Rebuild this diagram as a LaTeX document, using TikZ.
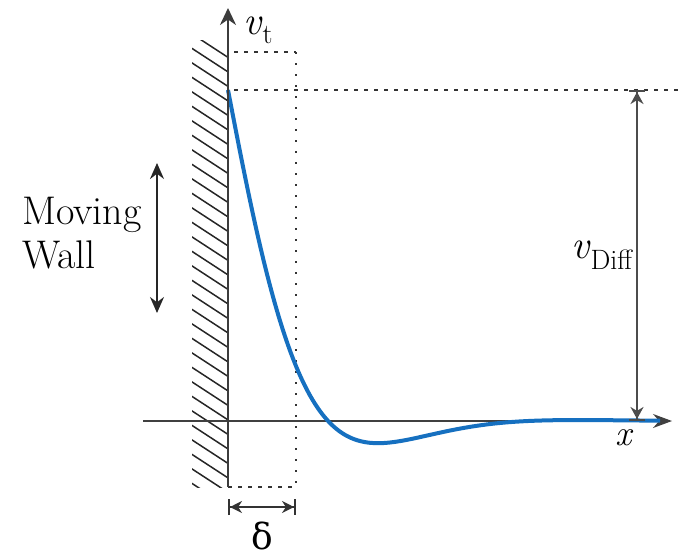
\documentclass[tikz,border=0pt]{standalone}
\usepackage{fontspec}
\newfontfamily\deltafont{DejaVu Serif}
\usetikzlibrary{arrows.meta,calc,positioning}
\definecolor{profile}{RGB}{22,112,192}
\definecolor{walldark}{RGB}{60,60,60}

\begin{document}
\begin{tikzpicture}[x=1pt,y=-1pt,>=Stealth,
    axisline/.style={line width=1.6pt,black!75},
    guide/.style={line width=1.8pt,black!80,dash pattern=on 4pt off 6pt},
    guidedot/.style={line width=2pt,black!80,dash pattern=on 2pt off 9pt},
    lbl/.style={inner sep=0pt,font=\fontsize{40}{44}\selectfont}]
  \useasboundingbox (0,0) rectangle (684,557);
  % origin, axes ends and the box of width delta
  \coordinate (O) at (228,421);
  \coordinate (vtop) at (228,8);
  \coordinate (wallbot) at (228,487);
  \coordinate (xstart) at (143,421);
  \coordinate (xend) at (672,421);
  \coordinate (boxtl) at (228,52);
  \coordinate (boxbr) at (296,487);
  \coordinate (vmax) at (228,90);
  % hatching of the wall
  \begin{scope}
    \clip (192,40) rectangle (wallbot);
    \foreach \k in {0,...,34}{
      \draw[line width=1.5pt,black!85] (186,{30+14.5*\k}) -- (232,{30+14.5*\k+30});
    }
  \end{scope}
  % box of the boundary layer
  \draw[guide] (234,52) -- (boxbr |- boxtl);
  \draw[guidedot] (boxbr |- boxtl) -- (boxbr);
  \draw[guide] (wallbot) -- (boxbr);
  \draw[guide] (234,90) -- (684,90);
  % axes
  \draw[axisline,-{Stealth[length=19pt,width=14pt]}] (xstart) -- (xend);
  % velocity profile
  \draw[profile,line width=4pt] plot[domain=0:432,samples=160]
      ({228+\x},{421-331*exp(-\x/63.7)*cos(\x/63.7 r)});
  \draw[line width=2.5pt,walldark,-{Stealth[length=17pt,width=16pt]}] (wallbot) -- (vtop);
  % v_Diff
  \coordinate (dtop) at (637,90);
  \coordinate (dbot) at (637,421);
  \draw[line width=2.5pt,black!70,
    {Bar[width=16pt,line width=2pt]Stealth[length=12pt,width=13pt]}-{Stealth[length=12pt,width=13pt]Bar[width=16pt,line width=2pt]}]
    (dtop) -- (dbot);
  % moving wall
  \coordinate (mwtop) at (157,163);
  \coordinate (mwbot) at (157,313);
  \draw[line width=1.8pt,black!85,{Stealth[length=16pt,width=14pt]}-{Stealth[length=16pt,width=14pt]}] (mwtop) -- (mwbot);
  % delta
  \coordinate (dl) at (228,507);
  \coordinate (dr) at (296,507);
  \draw[line width=1.8pt,black!80,
    {Bar[width=16pt,line width=2pt]Stealth[length=12pt,width=12pt]}-{Stealth[length=12pt,width=12pt]Bar[width=16pt,line width=2pt]}]
    (dl) -- (dr);
  % labels
  \node[lbl,anchor=west] (vtlbl) at (243,30) {\textit{v}\textsubscript{t}};
  \node[lbl] (vdlbl) at (602,255) {\textit{v}\textsubscript{Diff}};
  \node[lbl,font=\fontsize{36}{40}\selectfont] (xlbl) at (625,438) {\textit{x}};
  \node[lbl,font=\fontsize{36}{40}\deltafont] (dlbl) at (262,536) {δ};
  \node[lbl,anchor=west,align=left] (mwlbl) at (22,233) {Moving\\Wall};
\end{tikzpicture}
\end{document}
